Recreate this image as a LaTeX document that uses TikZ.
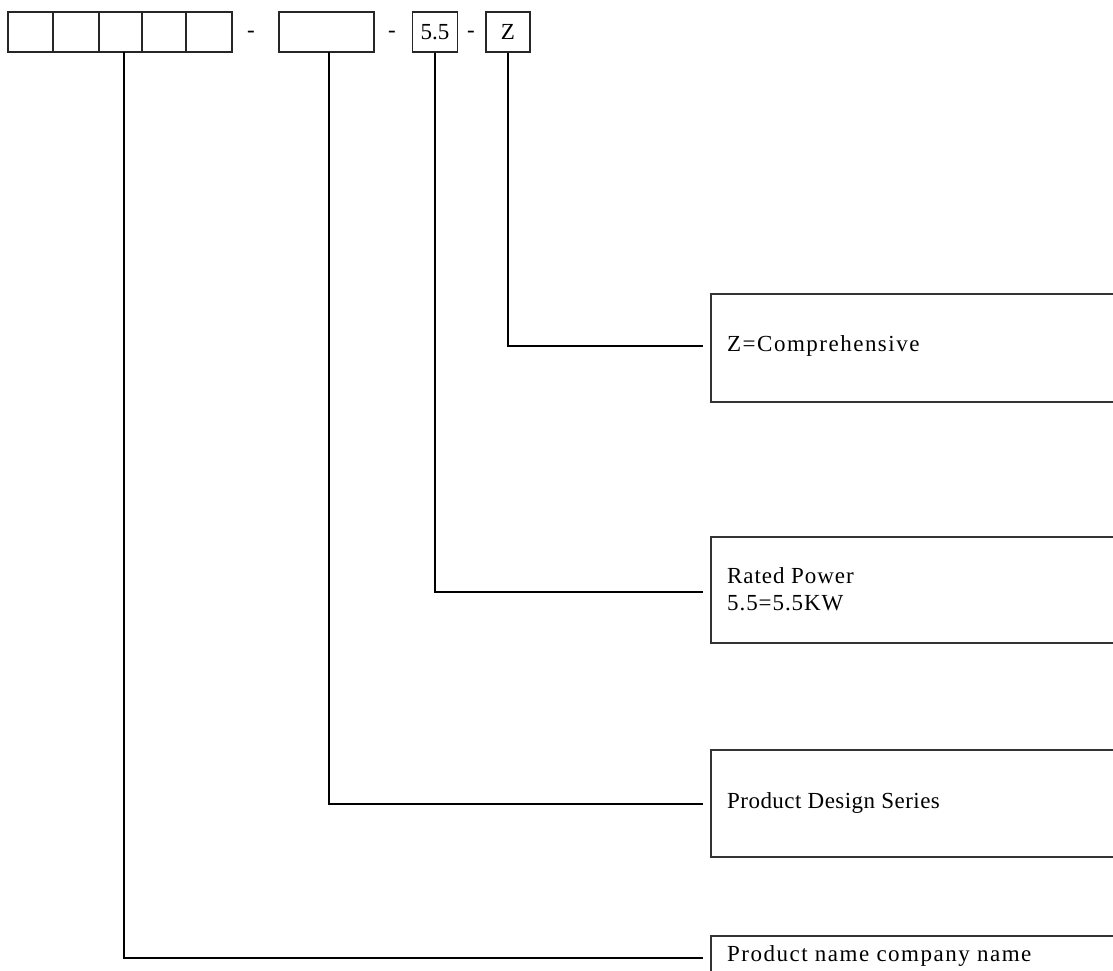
\documentclass[tikz,border=0pt]{standalone}
\usepackage{fontspec}
\setmainfont{Liberation Serif}
\newfontfamily\spA[LetterSpace=4]{Liberation Serif}
\newfontfamily\spB[LetterSpace=6.5]{Liberation Serif}
\newfontfamily\spC[LetterSpace=2]{Liberation Serif}
\newfontfamily\spD[LetterSpace=6.5]{Liberation Serif}
\begin{document}
\begin{tikzpicture}[x=1pt,y=-1pt,
  cell/.style={draw=black!85,line width=1.3pt},
  infobox/.style={draw=black!80,line width=1.3pt},
  conn/.style={draw=black,line width=1.1pt},
  lbl/.style={font=\fontsize{23}{27}\selectfont\spA,inner sep=0pt,anchor=west,align=left},
  toptxt/.style={font=\fontsize{23}{28}\selectfont,inner sep=0pt}]
\useasboundingbox (0,0) rectangle (1113,971);
\clip (0,0) rectangle (1113,971);
% top code row
\foreach \a/\b [count=\i] in {8/53,53/99,99/142,142/186,186/232}{
  \draw[cell] (\a,12) rectangle (\b,52);
}
\coordinate (c1) at (124,52);
\node[toptxt] (d1) at (251,34) {-};
\draw[cell] (279,12) rectangle (374,52);
\coordinate (c2) at (329,52);
\node[toptxt] (d2) at (392,34) {-};
\node[cell,minimum width=45pt,minimum height=40pt,inner sep=0pt,font=\fontsize{23}{26}\selectfont] (p55) at (435,32) {5.5};
\node[toptxt] (d3) at (471,34) {-};
\node[cell,minimum width=44pt,minimum height=40pt,inner sep=0pt,font=\fontsize{23}{26}\selectfont] (pz) at (508,32) {Z};
% right boxes
\draw[infobox] (1120,294) -- (711,294) -- (711,402) -- (1120,402);
\draw[infobox] (1120,537) -- (711,537) -- (711,643) -- (1120,643);
\draw[infobox] (1120,750) -- (711,750) -- (711,857) -- (1120,857);
\draw[infobox] (1120,936) -- (711,936) -- (711,980);
\node[lbl,font=\fontsize{23}{27}\selectfont\spB] (tz) at (727,346) {Z=Comprehensive};
\node[lbl] (tp) at (727,589) {Rated Power\\5.5=5.5KW};
\node[lbl,font=\fontsize{23}{27}\selectfont\spC] (ts) at (727,803) {Product Design Series};
\node[lbl,font=\fontsize{23}{27}\selectfont\spD] (tn) at (727,956) {Product name company name};
\coordinate (ez) at (703,346);
\coordinate (ep) at (703,592);
\coordinate (es) at (703,804);
\coordinate (en) at (703,958);
% connectors
\draw[conn] (pz.south) |- (ez);
\draw[conn] (p55.south) |- (ep);
\draw[conn] (c2) |- (es);
\draw[conn] (c1) |- (en);
\end{tikzpicture}
\end{document}
